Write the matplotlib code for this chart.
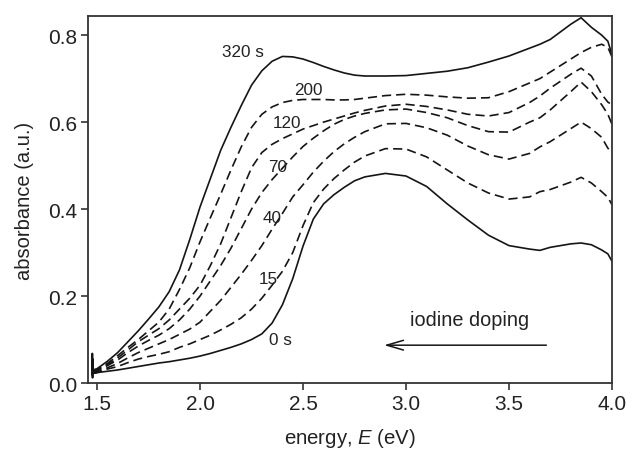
import matplotlib
matplotlib.use("Agg")
import matplotlib.pyplot as plt
import numpy as np

plt.rcParams['font.family'] = ['Liberation Sans', 'DejaVu Sans']
plt.rcParams['mathtext.fontset'] = 'custom'
plt.rcParams['mathtext.rm'] = 'Liberation Sans'
plt.rcParams['mathtext.it'] = 'Liberation Sans:italic'

# photon energy grid (eV)
energy = [1.48, 1.5, 1.55, 1.6, 1.65, 1.7, 1.75, 1.8, 1.85, 1.9, 1.95, 2.0, 2.05, 2.1, 2.15, 2.2, 2.25,
          2.3, 2.35, 2.4, 2.45, 2.5, 2.55, 2.6, 2.65, 2.7, 2.75, 2.8, 2.9, 3.0, 3.1, 3.2, 3.3,
          3.4, 3.5, 3.6, 3.65, 3.7, 3.8, 3.85, 3.9, 3.95, 3.98, 4.0]

abs_320 = [0.030, 0.033, 0.050, 0.070, 0.095, 0.120, 0.147, 0.175, 0.210, 0.260, 0.330, 0.405, 0.470, 0.535, 0.588, 0.638, 0.685,
           0.718, 0.740, 0.751, 0.750, 0.745, 0.737, 0.728, 0.720, 0.713, 0.708, 0.706, 0.706, 0.707, 0.712, 0.717, 0.725,
           0.738, 0.752, 0.770, 0.779, 0.790, 0.825, 0.840, 0.818, 0.800, 0.786, 0.755]
abs_200 = [0.028, 0.031, 0.045, 0.063, 0.082, 0.100, 0.120, 0.140, 0.170, 0.215, 0.265, 0.325, 0.380, 0.434, 0.490, 0.543, 0.588,
           0.618, 0.635, 0.645, 0.650, 0.652, 0.652, 0.652, 0.651, 0.651, 0.652, 0.655, 0.661, 0.664, 0.662, 0.658, 0.655,
           0.656, 0.670, 0.690, 0.700, 0.715, 0.745, 0.760, 0.772, 0.779, 0.772, 0.750]
abs_120 = [0.026, 0.030, 0.042, 0.058, 0.076, 0.095, 0.110, 0.125, 0.145, 0.170, 0.195, 0.225, 0.270, 0.320, 0.380, 0.440, 0.495,
           0.530, 0.549, 0.562, 0.573, 0.584, 0.592, 0.600, 0.607, 0.614, 0.621, 0.627, 0.637, 0.641, 0.636, 0.628, 0.618,
           0.614, 0.622, 0.645, 0.660, 0.678, 0.710, 0.724, 0.706, 0.664, 0.646, 0.640]
abs_70 = [0.025, 0.028, 0.040, 0.053, 0.070, 0.085, 0.098, 0.110, 0.125, 0.145, 0.170, 0.200, 0.235, 0.270, 0.310, 0.355, 0.400,
          0.438, 0.468, 0.494, 0.520, 0.544, 0.563, 0.580, 0.595, 0.606, 0.614, 0.620, 0.628, 0.630, 0.622, 0.610, 0.592,
          0.578, 0.577, 0.600, 0.610, 0.628, 0.670, 0.692, 0.670, 0.640, 0.618, 0.595]
abs_40 = [0.023, 0.025, 0.035, 0.045, 0.058, 0.070, 0.080, 0.090, 0.100, 0.112, 0.124, 0.140, 0.165, 0.190, 0.220, 0.250, 0.282,
          0.316, 0.354, 0.390, 0.428, 0.456, 0.485, 0.510, 0.532, 0.550, 0.565, 0.578, 0.596, 0.597, 0.587, 0.570, 0.545,
          0.525, 0.515, 0.528, 0.543, 0.555, 0.585, 0.600, 0.585, 0.565, 0.540, 0.530]
abs_15 = [0.022, 0.024, 0.032, 0.038, 0.047, 0.055, 0.061, 0.066, 0.072, 0.082, 0.090, 0.100, 0.110, 0.122, 0.135, 0.150, 0.170,
          0.195, 0.225, 0.257, 0.300, 0.362, 0.415, 0.446, 0.470, 0.490, 0.508, 0.522, 0.539, 0.538, 0.520, 0.490, 0.460,
          0.437, 0.423, 0.428, 0.440, 0.445, 0.462, 0.473, 0.460, 0.440, 0.427, 0.410]
abs_0 = [0.022, 0.024, 0.027, 0.030, 0.034, 0.038, 0.042, 0.046, 0.049, 0.053, 0.057, 0.062, 0.068, 0.075, 0.082, 0.090, 0.100,
         0.113, 0.138, 0.180, 0.240, 0.315, 0.377, 0.412, 0.433, 0.450, 0.465, 0.474, 0.482, 0.476, 0.452, 0.412, 0.375,
         0.340, 0.316, 0.308, 0.305, 0.312, 0.320, 0.322, 0.318, 0.306, 0.297, 0.280]

# noisy start of the spectra near 1.48 eV
spike_E = [1.476, 1.477, 1.478, 1.479, 1.48]
spike_A = [0.020, 0.068, 0.012, 0.055, 0.030]

labels = ["320 s", "200", "120", "70", "40", "15", "0 s"]
label_E = [2.21, 2.525, 2.42, 2.375, 2.35, 2.33, 2.39]
label_A = [0.763, 0.676, 0.600, 0.499, 0.380, 0.240, 0.100]

xticks = [1.5, 2.0, 2.5, 3.0, 3.5, 4.0]
yticks = [0.0, 0.2, 0.4, 0.6, 0.8]

fig = plt.figure(figsize=(6.26, 4.52), dpi=100)
ax = fig.add_axes([0.1406, 0.1504, 0.8370, 0.8120])

c = '#151515'
dash = (0, (5.5, 3))
series = [abs_320, abs_200, abs_120, abs_70, abs_40, abs_15, abs_0]
styles = ['-', dash, dash, dash, dash, dash, '-']
for s, ls in zip(series, styles):
    ax.plot(energy, s, color=c, lw=1.2, linestyle=ls)
ax.plot(spike_E, spike_A, color=c, lw=1.3)

for t, e, a in zip(labels, label_E, label_A):
    ax.text(e, a, t, fontsize=12.3, color='#222222', ha='center', va='center')

ax.text(3.31, 0.147, "iodine doping", fontsize=14.3, color='#222222', ha='center', va='center')
ax.annotate("", xy=(2.88, 0.087), xytext=(3.695, 0.087),
            arrowprops=dict(arrowstyle='->,head_length=1.2,head_width=0.35', color=c, lw=1.1))

ax.set_xlim(1.456, 4.0)
ax.set_ylim(0.0, 0.844)
ax.set_xticks(xticks)
ax.set_yticks(yticks)
ax.set_xticklabels([f"{v:.1f}" for v in xticks])
ax.set_yticklabels([f"{v:.1f}" for v in yticks])
ax.tick_params(direction='out', length=5, width=1.1, labelsize=15, colors='#222222', pad=3)
for sp in ax.spines.values():
    sp.set_linewidth(1.3)
    sp.set_color('#333333')

ax.set_xlabel("energy, $E$ (eV)", fontsize=14.7, color='#222222', labelpad=9)
ax.set_ylabel("absorbance (a.u.)", fontsize=14.5, color='#222222', labelpad=10)

fig.savefig("out.png", dpi=100)
